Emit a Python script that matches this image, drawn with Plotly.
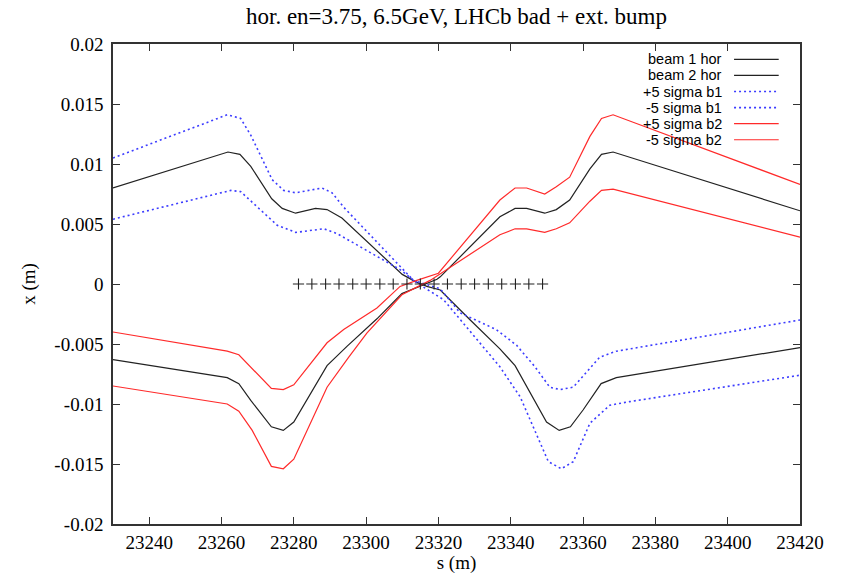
import plotly.graph_objects as go

# --- orbit data: horizontal closed orbit and 5-sigma envelopes (s in m, x in m) ---
s_b1 = [23230, 23261.8, 23265.1, 23268.1, 23273.9, 23276.8, 23280.5, 23283.2, 23286.0,
        23289.2, 23293.3, 23310.0, 23313.6, 23316.8, 23320.5, 23328.8, 23337.0, 23341.2,
        23349.9, 23353.4, 23356.5, 23360.0, 23365.0, 23369.2, 23420]
x_b1 = [0.0080, 0.0110, 0.0108, 0.0098, 0.0071, 0.0063, 0.0059, 0.0061, 0.0063,
        0.0062, 0.0055, 0.0008, 0.0002, -0.0002, -0.0005, -0.0030, -0.0054, -0.0068,
        -0.0115, -0.0122, -0.0119, -0.0105, -0.0083, -0.0078, -0.0053]

s_b1_hi = [23230, 23261.6, 23265.3, 23268.1, 23274.0, 23277.2, 23280.5, 23284.6, 23287.8,
           23290.6, 23293.8, 23313.1, 23320.5, 23326.0, 23336.0, 23341.6, 23346.7, 23350.8,
           23353.6, 23357.3, 23364.6, 23369.2, 23420]
x_b1_hi = [0.0105, 0.0141, 0.0138, 0.0124, 0.0087, 0.0078, 0.0076, 0.0078, 0.0080,
           0.0076, 0.0064, 0.0003, -0.0004, -0.0024, -0.0038, -0.0051, -0.0069, -0.0086,
           -0.0088, -0.0086, -0.0061, -0.0056, -0.0030]

s_b1_lo = [23230, 23262.6, 23265.3, 23269.0, 23275.4, 23280.5, 23285.1, 23288.3, 23292.0,
           23309.4, 23314.5, 23321.4, 23337.0, 23342.6, 23350.4, 23354.0, 23357.3, 23361.9,
           23367.4, 23372.9, 23420]
x_b1_lo = [0.0054, 0.0078, 0.0077, 0.0067, 0.0049, 0.0043, 0.0045, 0.0046, 0.0042,
           0.0012, 0.0000, -0.0013, -0.0069, -0.0094, -0.0148, -0.0154, -0.0148, -0.0116,
           -0.0101, -0.0098, -0.0076]

s_b2 = [23230, 23261.6, 23264.8, 23268.1, 23273.8, 23277.1, 23280.0, 23289.2, 23294.7,
        23303.0, 23309.9, 23313.1, 23319.6, 23320.5, 23337.0, 23341.2, 23344.4, 23349.4,
        23352.6, 23356.3, 23361.9, 23365.1, 23368.3, 23420]
x_b2 = [-0.0063, -0.0078, -0.0083, -0.0097, -0.0119, -0.0122, -0.0115, -0.0068, -0.0052,
        -0.0029, -0.0008, -0.0004, 0.0004, 0.0006, 0.0056, 0.0063, 0.0063, 0.0059,
        0.0062, 0.0070, 0.0096, 0.0108, 0.0110, 0.0061]

s_b2_hi = [23230, 23261.6, 23264.8, 23273.8, 23277.1, 23280.0, 23289.2, 23293.8, 23303.0,
           23309.4, 23314.0, 23320.0, 23337.0, 23341.2, 23344.4, 23349.4, 23352.6, 23356.3,
           23361.9, 23365.1, 23368.3, 23420]
x_b2_hi = [-0.0040, -0.0056, -0.0059, -0.0087, -0.0088, -0.0084, -0.0049, -0.0038, -0.0020,
           -0.0002, 0.0003, 0.0009, 0.0070, 0.0080, 0.0080, 0.0075, 0.0081, 0.0089,
           0.0123, 0.0138, 0.0141, 0.0083]

s_b2_lo = [23230, 23261.6, 23264.8, 23268.5, 23273.8, 23277.1, 23280.0, 23289.2, 23295.2,
           23300.2, 23309.9, 23317.7, 23337.0, 23341.2, 23344.4, 23349.4, 23352.6, 23356.3,
           23361.9, 23365.1, 23368.3, 23420]
x_b2_lo = [-0.0085, -0.0100, -0.0106, -0.0122, -0.0152, -0.0154, -0.0146, -0.0086, -0.0061,
           -0.0041, -0.0009, 0.0003, 0.0041, 0.0046, 0.0046, 0.0043, 0.0046, 0.0051,
           0.0069, 0.0078, 0.0079, 0.0039]

# bunch-crossing (encounter) positions along the IR
s_cross = [23281.3, 23285.0, 23288.8, 23292.5, 23296.3, 23300.0, 23303.8, 23307.5,
           23311.3, 23315.0, 23318.8, 23322.5, 23326.3, 23330.0, 23333.8, 23337.5,
           23341.3, 23345.0, 23348.8]
x_cross = [0.0] * len(s_cross)

x_ticks = [23240, 23260, 23280, 23300, 23320, 23340, 23360, 23380, 23400, 23420]
x_ticktext = ["23240", "23260", "23280", "23300", "23320", "23340", "23360", "23380",
              "23400", "23420"]
y_ticks = [0.02, 0.015, 0.01, 0.005, 0, -0.005, -0.01, -0.015, -0.02]
y_ticktext = ["0.02", "0.015", "0.01", "0.005", "0", "-0.005", "-0.01", "-0.015", "-0.02"]

BLACK = "#222222"
BLUE = "#3c3cff"
RED = "#ff2a2a"

series = [
    ("beam 1 hor", s_b1, x_b1, BLACK, "solid", 1.2),
    ("beam 2 hor", s_b2, x_b2, BLACK, "solid", 1.2),
    ("+5 sigma b1", s_b1_hi, x_b1_hi, BLUE, "2px,3px", 1.6),
    ("-5 sigma b1", s_b1_lo, x_b1_lo, BLUE, "2px,3px", 1.6),
    ("+5 sigma b2", s_b2_hi, x_b2_hi, RED, "solid", 1.2),
    ("-5 sigma b2", s_b2_lo, x_b2_lo, RED, "solid", 1.2),
]

fig = go.Figure()
for name, s, x, col, dash, w in series:
    fig.add_trace(go.Scatter(x=s, y=x, mode="lines", name=name,
                             line=dict(color=col, dash=dash, width=w),
                             showlegend=False))

fig.add_trace(go.Scatter(x=s_cross, y=x_cross, mode="markers", showlegend=False,
                         marker=dict(symbol="cross-thin", size=8, color=BLACK,
                                     line=dict(color=BLACK, width=1.1))))

# key in the upper-right corner: right-aligned text followed by a line sample
row0, dy = 0.968, 0.0335
for i, (name, s, x, col, dash, w) in enumerate(series):
    yy = row0 - i * dy
    fig.add_annotation(x=0.889, y=yy, xref="paper", yref="paper", text=name,
                       showarrow=False, xanchor="right", yanchor="middle",
                       font=dict(family="Liberation Sans, Arial", size=14.5, color="black"))
    fig.add_shape(type="line", xref="paper", yref="paper", x0=0.904, x1=0.969,
                  y0=yy, y1=yy, line=dict(color=col, dash=dash, width=w))

axis_font = dict(family="Liberation Serif, Times New Roman", size=19, color="black")

fig.update_layout(
    width=845, height=574,
    margin=dict(l=113, r=45, t=44, b=50),
    paper_bgcolor="white", plot_bgcolor="white",
    title=dict(text="hor. en=3.75, 6.5GeV, LHCb bad + ext. bump",
               xref="paper", x=0.5, xanchor="center", y=0.972, yanchor="middle",
               font=dict(family="Liberation Serif, Times New Roman", size=23, color="black")),
    xaxis=dict(range=[23230, 23420], tickvals=x_ticks, ticktext=x_ticktext,
               ticks="inside", ticklen=7, automargin=False,
               tickcolor="#333", showline=True, linecolor="#333", linewidth=1.5,
               mirror="ticks", showgrid=False, zeroline=False, tickfont=axis_font,
               title=dict(text="s (m)", font=axis_font, standoff=2)),
    yaxis=dict(range=[-0.02, 0.02], tickvals=y_ticks, ticktext=y_ticktext, ticks="inside",
               ticklen=7, tickcolor="#333", showline=True, linecolor="#333", linewidth=1.5,
               mirror="ticks", showgrid=False, zeroline=False, tickfont=axis_font,
               ticklabelstandoff=4, automargin=False,
               title=dict(text="x (m)", font=axis_font, standoff=14)),
)

fig.write_html("out.html")
